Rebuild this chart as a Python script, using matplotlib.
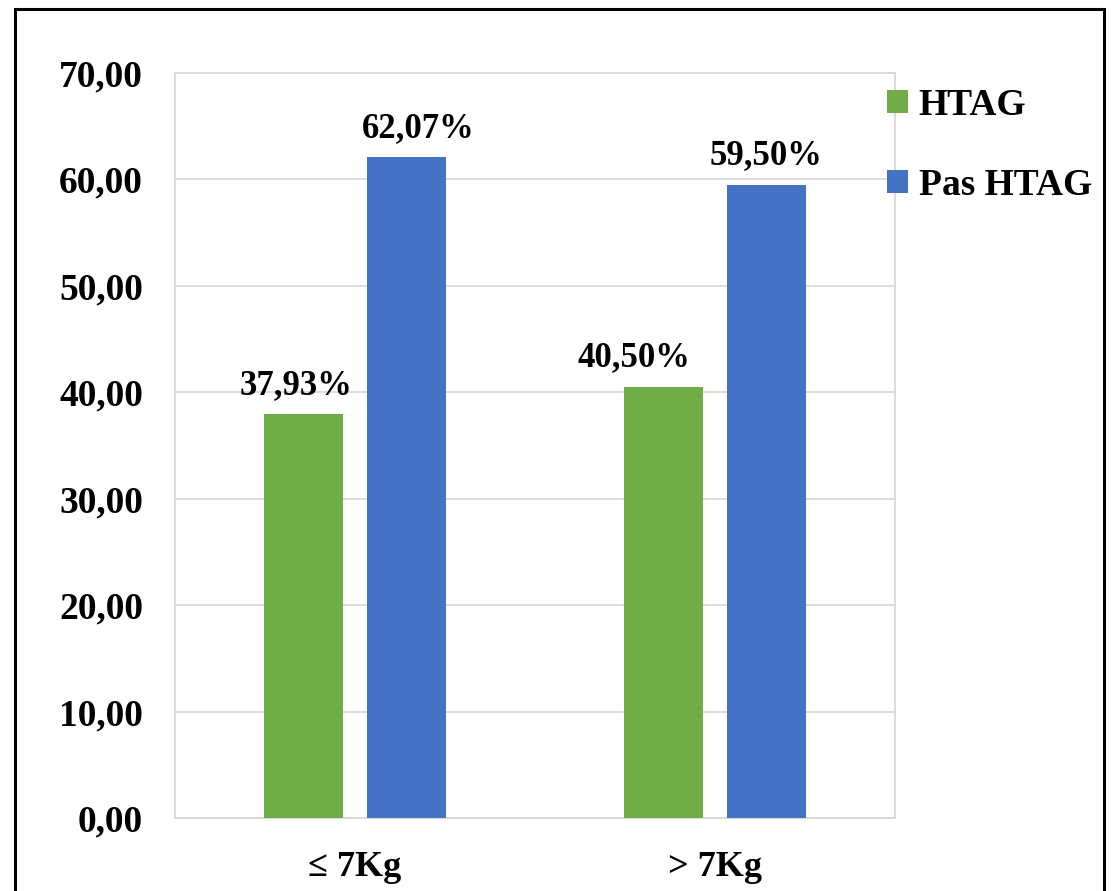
import matplotlib.pyplot as plt
import numpy as np
from matplotlib.patches import Rectangle

categories = ['≤ 7Kg', '> 7Kg']
htag = [37.93, 40.50]
pas_htag = [62.07, 59.50]
series_names = ['HTAG', 'Pas HTAG']
colors = ['#70ad47', '#4472c4']

# manual nudges of the data labels, in pixels (as placed in the original)
htag_label_dx = [-7, -30]
pas_label_dx = [12, 0]

plt.rcParams['font.family'] = ['Liberation Serif', 'DejaVu Serif']
plt.rcParams['font.weight'] = 'bold'


def fmt(v):
    return f'{v:.2f}'.replace('.', ',')


def main():
    fig = plt.figure(figsize=(11.16, 8.91), dpi=100)
    ax = fig.add_axes([175 / 1116, 1 - 818 / 891, 720 / 1116, 745 / 891])

    x = np.arange(len(categories))
    w = 0.222
    off = 0.143
    b1 = ax.bar(x - off, htag, w, color=colors[0], label=series_names[0], zorder=3)
    b2 = ax.bar(x + off, pas_htag, w, color=colors[1], label=series_names[1], zorder=3)

    for bars, vals, dxs in ((b1, htag, htag_label_dx), (b2, pas_htag, pas_label_dx)):
        for b, v, dx in zip(bars, vals, dxs):
            ax.annotate(fmt(v) + '%', (b.get_x() + b.get_width() / 2, v),
                        xytext=(dx * 0.72, 9), textcoords='offset points',
                        ha='center', va='bottom', fontsize=25, fontweight='bold')

    ax.set_xlim(-0.5, 1.5)
    ax.set_ylim(0, 70)
    ax.set_yticks(np.arange(0, 71, 10))
    ax.set_yticklabels([fmt(v) for v in np.arange(0, 71, 10)], fontsize=27, fontweight='bold')
    ax.set_xticks(x)
    ax.set_xticklabels(categories, fontsize=26, fontweight='bold')
    ax.tick_params(axis='y', length=0, pad=23)
    ax.tick_params(axis='x', length=0, pad=24)
    ax.grid(axis='y', color='#d9d9d9', linewidth=1.3, zorder=0)
    for s in ax.spines.values():
        s.set_color('#d9d9d9')
        s.set_linewidth(1.3)

    ax.legend(loc='upper left', bbox_to_anchor=(0.968, 1.0), frameon=False,
              prop={'size': 27, 'weight': 'bold'}, handlelength=0.55,
              handleheight=0.55, handletextpad=0.3, labelspacing=1.2,
              borderaxespad=0.0)

    fig.patches.append(Rectangle((15 / 1116, -0.05), 1089 / 1116, 1 - 9 / 891 + 0.05,
                                 transform=fig.transFigure, fill=False,
                                 edgecolor='black', linewidth=2.2))
    fig.savefig('out.png', dpi=100)


if __name__ == '__main__':
    main()
